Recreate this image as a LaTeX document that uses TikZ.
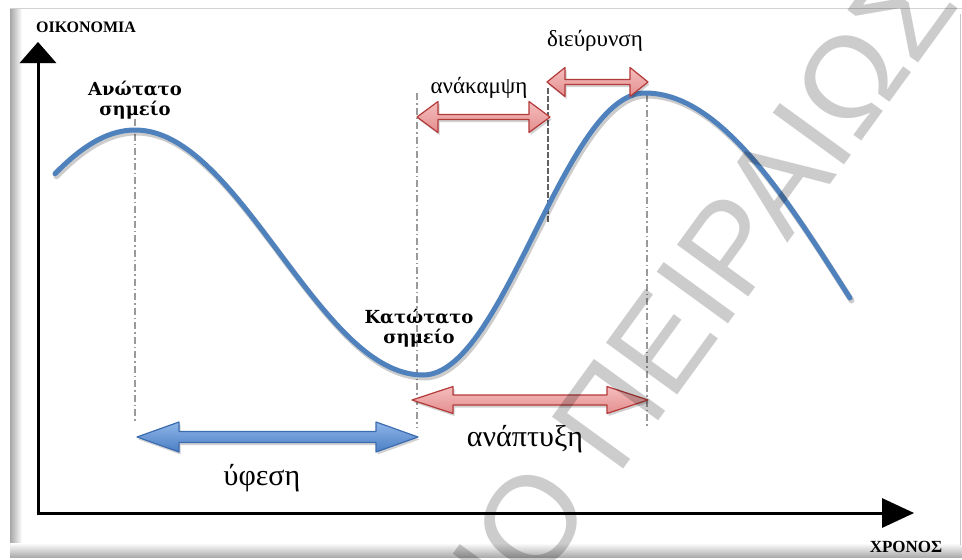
\documentclass[tikz,border=0pt]{standalone}
\usepackage{fontspec}
\setmainfont{Liberation Serif}
\newfontfamily\lblfont{DejaVu Serif}
\newfontfamily\wmfont{Liberation Sans}
\usetikzlibrary{arrows.meta}
\definecolor{curveblue}{HTML}{4F81BD}
\definecolor{bluetop}{HTML}{8FB6EA}
\definecolor{bluebot}{HTML}{4A7EC2}
\definecolor{blueline}{HTML}{3C6CB0}
\definecolor{redtop}{HTML}{F5BDBD}
\definecolor{redbot}{HTML}{E48E8E}
\definecolor{redline}{HTML}{B43A3A}
\definecolor{guidegray}{HTML}{9A9A9A}
\newcommand\mydblarrow[7]{%
  \path[fill=black,opacity=.18,shift={(1.5,2.5)}] (#1,#3) -- (#1+#4,#3-#5) -- (#1+#4,#3-#6) -- (#2-#4,#3-#6) -- (#2-#4,#3-#5) -- (#2,#3) -- (#2-#4,#3+#5) -- (#2-#4,#3+#6) -- (#1+#4,#3+#6) -- (#1+#4,#3+#5) -- cycle;
  \path[#7] (#1,#3) -- (#1+#4,#3-#5) -- (#1+#4,#3-#6) -- (#2-#4,#3-#6) -- (#2-#4,#3-#5) -- (#2,#3) -- (#2-#4,#3+#5) -- (#2-#4,#3+#6) -- (#1+#4,#3+#6) -- (#1+#4,#3+#5) -- cycle;}
\begin{document}
\begin{tikzpicture}[x=1pt,y=-1pt,
  vaxis/.style={line width=3pt,-{Triangle[length=21pt,width=36pt]}},
  haxis/.style={line width=3pt,-{Triangle[length=32pt,width=29pt]}},
  curve/.style={curveblue,line width=5pt,line cap=round,line join=round},
  guide/.style={guidegray,line width=1.8pt,dash pattern=on 7pt off 3pt on 1.5pt off 3pt},
  guidedark/.style={gray!75!black,line width=2.4pt,dash pattern=on 6pt off 2pt},
  bluearr/.style={draw=blueline,line width=1.2pt,top color=bluetop,bottom color=bluebot,line join=round},
  redarr/.style={draw=redline,line width=1.2pt,top color=redtop,bottom color=redbot,line join=round},
  lblb/.style={font=\lblfont\bfseries\fontsize{18}{20}\selectfont,inner sep=0,align=center},
  lblr/.style={font=\fontsize{23}{26}\selectfont,inner sep=0,anchor=base},
  lblbig/.style={font=\fontsize{30}{32}\selectfont,inner sep=0,anchor=base},
  axlbl/.style={font=\bfseries\fontsize{16}{18}\selectfont,inner sep=0,anchor=base},
  wm/.style={font=\wmfont\fontsize{128}{128}\selectfont,text=black,text opacity=.2,inner sep=0,anchor=base}]
\useasboundingbox (0,0) rectangle (962,560);
\fill[white] (0,0) rectangle (962,560);
% frame
\shade[left color=gray!70,right color=white] (10,8) rectangle (22,556);
\shade[top color=white,bottom color=gray!65] (10,543) rectangle (962,557);
\draw[gray!35,line width=1pt] (10,8) -- (962,8);
\draw[gray!45,line width=1pt] (960,14) -- (960,545);
% coordinates
\coordinate (O) at (38,513);
\coordinate (ytop) at (38,42);
\coordinate (xend) at (914,513);
\coordinate (g1t) at (135,119); \coordinate (g1b) at (135,423);
\coordinate (g2t) at (417,93);  \coordinate (g2b) at (417,427);
\coordinate (g3t) at (548,88);  \coordinate (g3b) at (548,222);
\coordinate (g4t) at (647,95);  \coordinate (g4b) at (647,427);
% axes shadows
\draw[vaxis,black,opacity=.22,shift={(2,3)}] (O) -- (ytop);
\draw[haxis,black,opacity=.22,shift={(2,3)}] (O) -- (xend);
% axes
\draw[vaxis] ([yshift=-1.5pt]O) -- (ytop);
\draw[haxis] ([xshift=-1.5pt]O) -- (xend);
% guide lines
\draw[guide] (g1t) -- (g1b);
\draw[guide] (g2t) -- (g2b);
\draw[guidedark] (g3t) -- (g3b);
\draw[guide] (g4t) -- (g4b);
% curve shadow and curve
\begin{scope}[shift={(1.5,2.5)}]
\draw[curve,black,opacity=.2,line width=6pt]
  plot[domain=55:423,samples=90,smooth] (\x,{252.5-122.5*cos(deg(pi*(\x-135)/288))})
  -- plot[domain=423:645,samples=70,smooth] (\x,{234+141*cos(deg(pi*(\x-423)/222))})
  -- plot[domain=645:850,samples=60,smooth] (\x,{93+205*(1-cos(deg(pi*(\x-645)/410)))});
\end{scope}
\draw[curve]
  plot[domain=55:423,samples=90,smooth] (\x,{252.5-122.5*cos(deg(pi*(\x-135)/288))})
  -- plot[domain=423:645,samples=70,smooth] (\x,{234+141*cos(deg(pi*(\x-423)/222))})
  -- plot[domain=645:850,samples=60,smooth] (\x,{93+205*(1-cos(deg(pi*(\x-645)/410)))});
% double arrows
\mydblarrow{137}{418}{437}{42}{15}{5.5}{bluearr}
\mydblarrow{412}{648}{400}{41}{13.5}{5}{redarr}
\mydblarrow{417}{550}{117}{21}{15.5}{2.5}{redarr}
\mydblarrow{547}{648}{82}{18}{14.5}{2.5}{redarr}
% labels
\node[axlbl] (ylab) at (86,32) {ΟΙΚΟΝΟΜΙΑ};
\node[axlbl,font=\bfseries\fontsize{17}{18}\selectfont] (xlab) at (906,552) {ΧΡΟΝΟΣ};
\node[lblb] (peak) at (135,100) {Ανώτατο\\σημείο};
\node[lblb] (trough) at (419,328) {Κατώτατο\\σημείο};
\node[lblr] (recov) at (479,93) {ανάκαμψη};
\node[lblr] (expan) at (595,46.5) {διεύρυνση};
\node[lblbig] (growth) at (525,446) {ανάπτυξη};
\node[lblbig] (reces) at (262,485) {ύφεση};
% watermark
\begin{scope}
\clip (0,0) rectangle (962,560);
\node[wm,rotate=54] (wmk) at (538,587) {\llap{ΠΑΝΕΠΙΣΤΗΜΙ}\rlap{Ο ΠΕΙΡΑΙΩΣ}};
\end{scope}
\end{tikzpicture}
\end{document}
